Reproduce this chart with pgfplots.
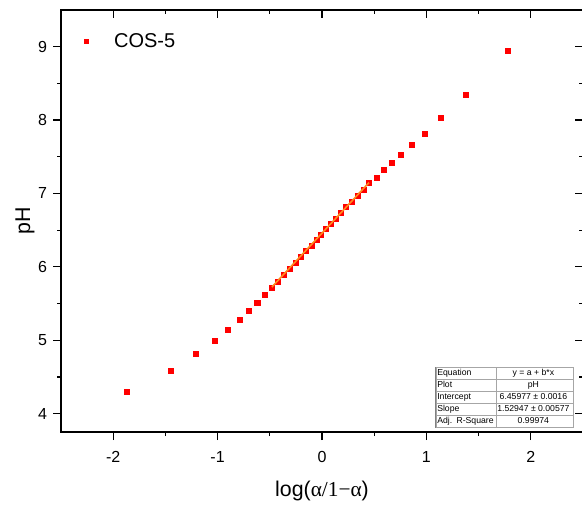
\documentclass[border=0pt]{standalone}
\usepackage{fontspec}
\setmainfont{Liberation Sans}
\newfontfamily\serifgr{Liberation Serif}
\usepackage{pgfplots}
\usepackage{pgfplotstable}
\pgfplotsset{compat=1.18}
\usetikzlibrary{matrix}
\definecolor{fitorange}{RGB}{255,140,30}

\pgfplotstableread{
x y
-1.873 4.296
-1.450 4.58
-1.205 4.81
-1.031 4.99
-0.900 5.14
-0.792 5.28
-0.700 5.40
-0.620 5.51
-0.547 5.617
-0.480 5.71
-0.420 5.80
-0.363 5.89
-0.305 5.975
-0.255 6.06
-0.203 6.14
-0.153 6.22
-0.102 6.29
-0.054 6.37
-0.010 6.44
0.038 6.52
0.086 6.59
0.134 6.66
0.181 6.74
0.230 6.82
0.286 6.89
0.344 6.97
0.398 7.05
0.452 7.14
0.522 7.22
0.589 7.32
0.668 7.42
0.754 7.53
0.856 7.66
0.980 7.82
1.139 8.03
1.380 8.34
1.775 8.95
}\datatable

\begin{document}
\begin{tikzpicture}
\begin{axis}[
  name=main, at={(0,0)}, anchor=south west,
  set layers,
  scale only axis, width=391.5pt, height=316.5pt,
  xmin=-2.5, xmax=2.5, ymin=3.75, ymax=9.5,
  xtick={-2,-1,0,1,2}, xticklabels={-2,-1,0,1,2},
  ytick={4,5,6,7,8,9}, yticklabels={4,5,6,7,8,9},
  minor x tick num=1, minor y tick num=1,
  tick align=outside, tick pos=left,
  major tick length=6pt, minor tick length=3pt,
  axis line style={line width=0.9pt},
  every tick/.style={black, line width=0.9pt},
  tick label style={font=\fontsize{12}{14}\selectfont},
  xticklabel style={yshift=-5pt},
  yticklabel style={xshift=-1pt},
  xlabel={log({\serifgr α/1−α})},
  ylabel={pH},
  label style={font=\fontsize{16}{19}\selectfont},
  xlabel style={at={(axis description cs:0.5,-0.152)}, anchor=base},
  ylabel style={at={(axis description cs:-0.069,0.5)}, anchor=center},
  legend style={at={(axis description cs:0.033,0.957)}, anchor=north west,
    draw=none, fill=none, font=\fontsize{15}{17}\selectfont},
  legend cell align=left,
  legend image code/.code={\path (0,0) (0.75cm,0); \draw[#1, mark size=1.5pt] plot coordinates {(0.1cm,0cm)};},
]
\addplot[only marks, mark=square*, mark size=1.9pt, color=red] table[x=x,y=y] {\datatable};
\addlegendentry{COS-5}
\addplot[color=fitorange, line width=1.2pt, forget plot, on layer=axis foreground] coordinates {(-0.48,5.7256) (0.45,7.1480)};
\end{axis}
\begin{axis}[
  at={(0,0)}, anchor=south west,
  scale only axis, width=391.5pt, height=316.5pt,
  xmin=-2.5, xmax=2.5, ymin=3.75, ymax=9.5,
  xtick={-2,-1,0,1,2}, ytick={4,5,6,7,8,9},
  xticklabels={}, yticklabels={},
  minor x tick num=1, minor y tick num=1,
  tick align=inside, tick pos=right,
  major tick length=6pt, minor tick length=3pt,
  axis line style={line width=0.9pt},
  every tick/.style={black, line width=0.9pt},
]
\end{axis}
\matrix[matrix of nodes, anchor=south east, draw=gray, line width=0.7pt, inner sep=0pt,
  column sep=-0.4pt, row sep=-0.4pt,
  nodes={draw=gray!70, line width=0.4pt, minimum height=9pt, inner ysep=0pt,
    text height=5pt, text depth=1.5pt, font=\fontsize{6.5}{7}\selectfont},
  column 1/.style={nodes={text width=43pt, inner xsep=1pt, align=left}},
  column 2/.style={nodes={minimum width=58pt, align=center}}]
  at ([xshift=-6.75pt,yshift=3pt]main.south east) {
Equation & y = a + b*x \\
Plot & pH \\
Intercept & 6.45977 ± 0.0016 \\
Slope & 1.52947 ± 0.00577 \\
Adj. R-Square & 0.99974 \\
};
\pgfresetboundingbox
\path ([xshift=-45.75pt,yshift=-54pt]main.south west) rectangle ([xshift=-0.75pt,yshift=7.5pt]main.north east);
\end{tikzpicture}
\end{document}
